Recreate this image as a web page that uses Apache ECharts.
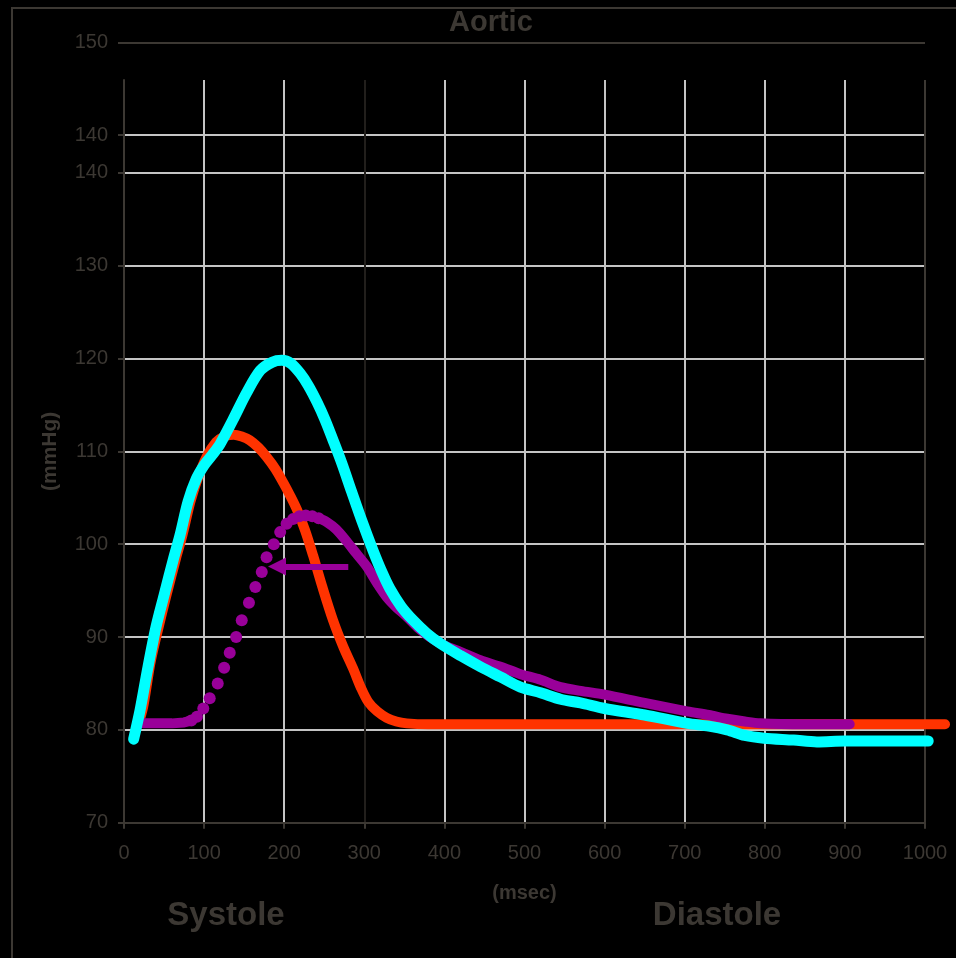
<!DOCTYPE html>
<html>
<head>
<meta charset="utf-8">
<title>Aortic</title>
<script src="https://cdn.jsdelivr.net/npm/echarts@6/dist/echarts.min.js"></script>
<style>
  html, body { margin: 0; padding: 0; background: #000; }
  #chart { width: 956px; height: 958px; }
</style>
</head>
<body>
<div id="chart"></div>
<script>
// Aortic pressure traces, time in msec, pressure in mmHg
const redMs  = [18, 24, 33, 43, 53, 65, 73, 83, 93, 103, 115, 125, 137, 147, 157, 168, 178, 189, 199, 207, 216, 226, 236, 248, 261, 274, 286, 296, 305, 316, 328, 340, 353, 380, 500, 700, 900, 1025];
const redVal = [80.6, 82.5, 87.2, 91.0, 94.5, 98.5, 101, 104.6, 107.3, 109.4, 111.0, 111.6, 111.8, 111.6, 111.2, 110.4, 109.4, 108.1, 106.6, 105.3, 103.7, 101.5, 98.8, 95.3, 91.8, 88.9, 86.6, 84.5, 83.0, 82.0, 81.3, 80.9, 80.7, 80.6, 80.6, 80.6, 80.6, 80.6];

const cyanMs  = [12, 20, 30, 40, 50, 62, 70, 80, 90, 100, 110, 120, 136, 153, 170, 185, 197, 208, 220, 230, 241, 251, 261, 272, 284, 297, 311, 322, 332, 346, 361, 378, 395, 420, 445, 470, 495, 520, 545, 570, 600, 650, 703, 730, 753, 775, 799, 836, 865, 900, 1004];
const cyanVal = [79.0, 82.1, 86.8, 91.1, 94.5, 98.5, 101, 104.6, 107.0, 108.5, 109.6, 110.8, 113.4, 116.3, 118.7, 119.6, 119.8, 119.5, 118.4, 117.1, 115.3, 113.4, 111.2, 108.7, 105.7, 102.5, 99.3, 97.0, 95.2, 93.3, 91.8, 90.4, 89.3, 88.0, 86.8, 85.7, 84.6, 84.0, 83.3, 82.9, 82.3, 81.6, 80.7, 80.4, 80.0, 79.4, 79.1, 78.9, 78.7, 78.8, 78.8];

// purple trace: flat start, sampled dots on the upstroke, then the decay
const purpleFlatMs  = [24, 40, 60, 75, 84];
const purpleFlatVal = [80.7, 80.7, 80.7, 80.8, 81.0];
const purpleDotMs  = [84, 91, 99, 107, 117, 125, 132, 140, 147, 156, 164, 172, 178, 187, 195, 203, 211, 219, 227, 235, 243];
const purpleDotVal = [81.0, 81.4, 82.3, 83.4, 85.0, 86.7, 88.3, 90.0, 91.8, 93.7, 95.4, 97.0, 98.6, 100.0, 101.3, 102.2, 102.7, 103.0, 103.1, 103.0, 102.8];
const purpleTailMs  = [243, 253, 265, 278, 290, 303, 316, 328, 340, 353, 367, 382, 400, 420, 445, 470, 495, 520, 545, 570, 600, 650, 703, 730, 753, 775, 794, 850, 906];
const purpleTailVal = [102.8, 102.4, 101.6, 100.3, 99.0, 97.6, 95.8, 94.3, 93.2, 92.2, 91.0, 90.0, 89.1, 88.4, 87.5, 86.8, 86.0, 85.4, 84.6, 84.2, 83.8, 82.9, 82.0, 81.6, 81.2, 80.9, 80.7, 80.6, 80.6];

// leftward shift arrow (msec start -> msec end, at pressure level)
const arrowFromMs = 280;
const arrowToMs = 191;
const arrowLevel = 97.6;

const yTicksMain = [70, 80, 90, 100, 110, 120, 130, 140];
const yTicksUpper = [140, 150];

const zip = (xs, ys) => xs.map((x, i) => [x, ys[i]]);

const TEXT = '#3c3833';
const GRID = '#c4c4c4';
const DARK = '#221f1c';
const FONT = '"Liberation Sans", Arial, sans-serif';

// plot frame: 0..1000 msec spans 801 px; traces run a little past 1000,
// so they live on a hidden overlay axis with the same scale, extended to 1030
const PLOT_LEFT = 124, PLOT_RIGHT = 31, PLOT_TOP = 80, PLOT_BOTTOM = 135.3;
const PX_PER_MS = (956 - PLOT_LEFT - PLOT_RIGHT) / 1000;
const TRACE_MAX_MS = 1030;

const chart = echarts.init(document.getElementById('chart'), null, { renderer: 'canvas' });

chart.setOption({
  backgroundColor: '#000',
  animation: false,
  title: {
    text: 'Aortic',
    left: 444,
    top: 3,
    textStyle: { color: TEXT, fontSize: 29, fontWeight: 'bold', fontFamily: FONT }
  },
  grid: [
    { left: PLOT_LEFT, right: PLOT_RIGHT, top: PLOT_TOP, bottom: PLOT_BOTTOM },
    { left: PLOT_LEFT, right: PLOT_RIGHT, top: 42.7, height: 92.3 },
    { left: PLOT_LEFT, width: TRACE_MAX_MS * PX_PER_MS, top: PLOT_TOP, bottom: PLOT_BOTTOM }
  ],
  xAxis: [
    {
      type: 'value', gridIndex: 0, min: 0, max: 1000, interval: 100,
      name: '(msec)', nameLocation: 'middle', nameGap: 61,
      nameTextStyle: { color: TEXT, fontSize: 20, fontWeight: 'bold', fontFamily: FONT },
      axisLine: { show: true, onZero: false, lineStyle: { color: TEXT, width: 2 } },
      axisTick: { show: true, length: 6, lineStyle: { color: TEXT, width: 2 } },
      axisLabel: { color: TEXT, fontSize: 20, fontFamily: FONT, margin: 21, formatter: v => String(v) },
      splitLine: {
        show: true,
        lineStyle: { width: 2, color: [TEXT, GRID, GRID, DARK, GRID, GRID, GRID, GRID, GRID, GRID, TEXT] }
      }
    },
    { type: 'value', gridIndex: 1, min: 0, max: 1000, show: false },
    { type: 'value', gridIndex: 2, min: 0, max: TRACE_MAX_MS, show: false }
  ],
  yAxis: [
    {
      type: 'value', gridIndex: 0, min: 70, max: 150, interval: 10,
      name: '(mmHg)', nameLocation: 'middle', nameGap: 63,
      nameTextStyle: { color: TEXT, fontSize: 21, fontWeight: 'bold', fontFamily: FONT },
      axisLine: { show: true, onZero: false, lineStyle: { color: TEXT, width: 2 } },
      axisTick: { show: true, length: 6, customValues: yTicksMain, lineStyle: { color: TEXT, width: 2 } },
      axisLabel: { color: TEXT, fontSize: 20, fontFamily: FONT, margin: 16, customValues: yTicksMain },
      splitLine: { show: true, lineStyle: { width: 2, color: [TEXT, GRID, GRID, GRID, GRID, GRID, GRID, GRID] } }
    },
    {
      type: 'value', gridIndex: 1, min: 140, max: 150, interval: 10,
      axisLine: { show: false },
      axisTick: { show: true, length: 6, lineStyle: { color: TEXT, width: 2 } },
      axisLabel: { color: TEXT, fontSize: 20, fontFamily: FONT, margin: 16, customValues: yTicksUpper },
      splitLine: { show: true, lineStyle: { width: 2, color: [GRID, TEXT] } }
    },
    { type: 'value', gridIndex: 2, min: 70, max: 150, show: false }
  ],
  series: [
    {
      name: 'red', type: 'line', xAxisIndex: 2, yAxisIndex: 2,
      data: zip(redMs, redVal), showSymbol: false, smooth: 0.3,
      lineStyle: { color: '#ff3300', width: 10, cap: 'round', join: 'round' },
      z: 2
    },
    {
      name: 'purpleFlat', type: 'line', xAxisIndex: 2, yAxisIndex: 2,
      data: zip(purpleFlatMs, purpleFlatVal), showSymbol: false,
      lineStyle: { color: '#990099', width: 10, cap: 'round', join: 'round' },
      z: 3
    },
    {
      name: 'purpleDots', type: 'scatter', xAxisIndex: 2, yAxisIndex: 2,
      data: zip(purpleDotMs, purpleDotVal), symbol: 'circle', symbolSize: 12,
      itemStyle: { color: '#990099', opacity: 1 },
      z: 3
    },
    {
      name: 'purpleTail', type: 'line', xAxisIndex: 2, yAxisIndex: 2,
      data: zip(purpleTailMs, purpleTailVal), showSymbol: false, smooth: 0.3,
      lineStyle: { color: '#990099', width: 10, cap: 'round', join: 'round' },
      markLine: {
        silent: true,
        symbol: ['none', 'triangle'],
        symbolSize: 18,
        label: { show: false },
        lineStyle: { color: '#990099', width: 6, type: 'solid' },
        data: [[{ coord: [arrowFromMs, arrowLevel] }, { coord: [arrowToMs, arrowLevel] }]]
      },
      z: 3
    },
    {
      name: 'cyan', type: 'line', xAxisIndex: 2, yAxisIndex: 2,
      data: zip(cyanMs, cyanVal), showSymbol: false, smooth: 0.3,
      lineStyle: { color: '#00ffff', width: 11, cap: 'round', join: 'round' },
      z: 4
    }
  ],
  graphic: [
    {
      type: 'rect', silent: true, z: -1,
      shape: { x: 12, y: 8, width: 1000, height: 1000 },
      style: { fill: null, stroke: TEXT, lineWidth: 2 }
    },
    {
      type: 'text', silent: true,
      style: { text: 'Systole', x: 226, y: 916, align: 'center', verticalAlign: 'middle',
               font: 'bold 33px "Liberation Sans", Arial, sans-serif', fill: TEXT }
    },
    {
      type: 'text', silent: true,
      style: { text: 'Diastole', x: 717, y: 916, align: 'center', verticalAlign: 'middle',
               font: 'bold 33px "Liberation Sans", Arial, sans-serif', fill: TEXT }
    }
  ]
});
</script>
</body>
</html>
